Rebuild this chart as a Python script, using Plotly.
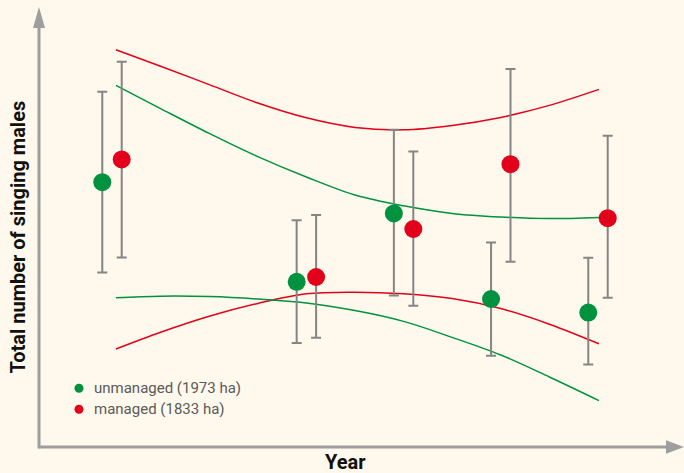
import plotly.graph_objects as go

# ---- data (years with small offsets so paired points sit side by side) ----
unmanaged_year = [0.9, 2.9, 3.9, 4.9, 5.9]
unmanaged_males = [66.2, 41.3, 58.4, 37.0, 33.6]
unmanaged_upper = [88.8, 56.7, 79.3, 51.1, 47.3]
unmanaged_lower = [43.6, 26.0, 37.9, 22.8, 20.6]

managed_year = [1.1, 3.1, 4.1, 5.1, 6.1]
managed_males = [71.9, 42.5, 54.5, 70.7, 57.2]
managed_upper = [96.3, 58.0, 73.9, 94.5, 77.8]
managed_lower = [47.4, 27.3, 35.3, 46.3, 37.3]

# confidence-band curves
band_year = [1.04, 1.5, 2.0, 2.5, 3.0, 3.5, 4.0, 4.5, 5.0, 5.5, 6.01]
managed_band_hi = [99.3, 95.2, 90.6, 86.0, 82.3, 79.9, 79.3, 80.4, 82.4, 85.4, 89.4]
managed_band_lo = [24.5, 28.7, 32.7, 35.9, 38.3, 38.7, 38.3, 37.1, 34.6, 30.7, 25.8]
unmanaged_band_hi = [90.4, 84.6, 78.4, 72.6, 67.5, 63.0, 60.3, 58.4, 57.5, 57.1, 57.4]
unmanaged_band_lo = [37.3, 37.7, 37.6, 37.0, 36.0, 34.1, 31.4, 27.4, 23.0, 17.5, 11.6]

legend_labels = ["unmanaged (1973 ha)", "managed (1833 ha)"]

GREEN = "#00923f"
RED = "#e2001a"
GREY_BAR = "#858585"
AXIS = "#9e9e9e"
BG = "#fef9ec"
FONT = "Roboto, Liberation Sans, sans-serif"


def err(vals, hi, lo):
    return dict(type="data", symmetric=False,
                array=[h - v for h, v in zip(hi, vals)],
                arrayminus=[v - l for v, l in zip(vals, lo)],
                color=GREY_BAR, thickness=2, width=5)


fig = go.Figure()
for ys, col in [(managed_band_hi, RED), (managed_band_lo, RED),
                (unmanaged_band_hi, GREEN), (unmanaged_band_lo, GREEN)]:
    fig.add_trace(go.Scatter(x=band_year, y=ys, mode="lines",
                             line=dict(color=col, width=1.5, shape="spline"),
                             showlegend=False, hoverinfo="skip"))

fig.add_trace(go.Scatter(x=unmanaged_year, y=unmanaged_males, mode="markers",
                         marker=dict(color=GREEN, size=18),
                         error_y=err(unmanaged_males, unmanaged_upper, unmanaged_lower),
                         name=legend_labels[0], showlegend=False))
fig.add_trace(go.Scatter(x=managed_year, y=managed_males, mode="markers",
                         marker=dict(color=RED, size=18),
                         error_y=err(managed_males, managed_upper, managed_lower),
                         name=legend_labels[1], showlegend=False))

W, H = 684, 473
L, R, T, B = 39, 0, 7, 26
pw, ph = W - L - R, H - T - B


def px(x):
    return (x - L) / pw


def py(y):
    return (H - B - y) / ph


shapes = [
    dict(type="line", xref="paper", yref="paper", x0=0, y0=0, x1=px(668), y1=0,
         line=dict(color=AXIS, width=3)),
    dict(type="line", xref="paper", yref="paper", x0=0, y0=py(448.5), x1=0, y1=py(26),
         line=dict(color=AXIS, width=3)),
    dict(type="path", xref="paper", yref="paper",
         path=f"M {px(684)} {py(447)} L {px(666)} {py(440.3)} L {px(666)} {py(453.7)} Z",
         fillcolor=AXIS, line=dict(width=0)),
    dict(type="path", xref="paper", yref="paper",
         path=f"M {px(39)} {py(7)} L {px(33)} {py(28)} L {px(45)} {py(28)} Z",
         fillcolor=AXIS, line=dict(width=0)),
]
for cy, col in [(388.3, GREEN), (409.3, RED)]:
    shapes.append(dict(type="circle", xref="paper", yref="paper",
                       x0=px(74.5), x1=px(83.5), y0=py(cy + 4.5), y1=py(cy - 4.5),
                       fillcolor=col, line=dict(width=0)))

annotations = [
    dict(text="<b>Total number of singing males</b>", xref="paper", yref="paper",
         x=px(17), y=py(237.5), textangle=-90, showarrow=False,
         xanchor="center", yanchor="middle",
         font=dict(family=FONT, size=20, color="#111111")),
    dict(text="<b>Year</b>", xref="paper", yref="paper", x=px(345.5), y=py(462),
         showarrow=False, xanchor="center", yanchor="middle",
         font=dict(family=FONT, size=20, color="#111111")),
]
for cy, lab in [(388.3, legend_labels[0]), (409.3, legend_labels[1])]:
    annotations.append(dict(text=lab, xref="paper", yref="paper", x=px(92), y=py(cy),
                            showarrow=False, xanchor="left", yanchor="middle",
                            font=dict(family=FONT, size=15, color="#5a5a5a")))

fig.update_layout(
    width=W, height=H,
    margin=dict(l=L, r=R, t=T, b=B, pad=0),
    paper_bgcolor=BG, plot_bgcolor=BG,
    xaxis=dict(range=[0.249, 6.885], showgrid=False, zeroline=False,
               showticklabels=False, ticks="", showline=False, fixedrange=True),
    yaxis=dict(range=[0, 110], showgrid=False, zeroline=False,
               showticklabels=False, ticks="", showline=False, fixedrange=True),
    shapes=shapes, annotations=annotations,
    showlegend=False,
)

fig.write_html("out.html",
               config={"displayModeBar": False},
               post_script="document.body.style.margin='0';"
                           "document.body.style.background='#fef9ec';")
